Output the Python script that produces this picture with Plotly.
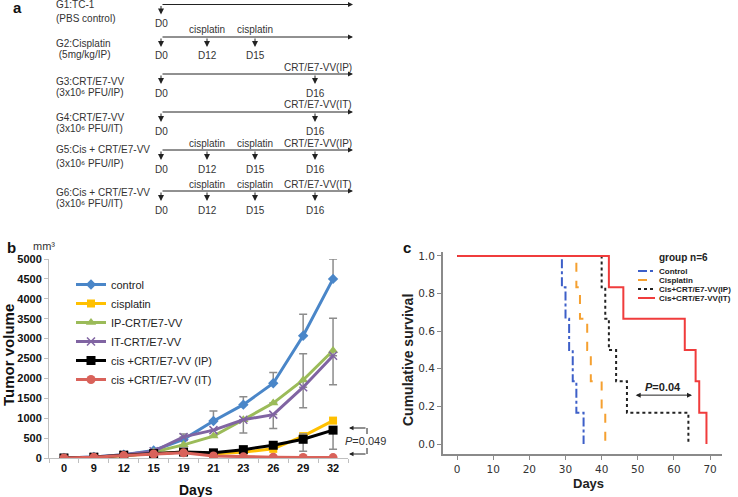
import plotly.graph_objects as go

W, H = 738, 497

def px(x):
    return x / W

def py(y):
    return 1 - y / H

# ---------------- Panel a: treatment schedule ----------------
group_names = ["G1:TC-1", "G2:Cisplatin", "G3:CRT/E7-VV", "G4:CRT/E7-VV",
               "G5:Cis + CRT/E7-VV", "G6:Cis + CRT/E7-VV"]
group_subs = ["(PBS control)", " (5mg/kg/IP)", "(3x10\u2076 PFU/IP)", "(3x10\u2076 PFU/IT)",
              "(3x10\u2076 PFU/IP)", "(3x10\u2076 PFU/IT)"]
group_days = [[0], [0, 12, 15], [0, 16], [0, 16], [0, 12, 15, 16], [0, 12, 15, 16]]
group_treat = [[""], ["", "cisplatin", "cisplatin"], ["", "CRT/E7-VV(IP)"], ["", "CRT/E7-VV(IT)"],
               ["", "cisplatin", "cisplatin", "CRT/E7-VV(IP)"],
               ["", "cisplatin", "cisplatin", "CRT/E7-VV(IT)"]]

# ---------------- Panel b: tumor volume ----------------
days_b = ["0", "9", "12", "15", "19", "21", "23", "26", "29", "32"]
control = [0, 25, 80, 190, 470, 930, 1340, 1880, 3070, 4500]
cisplatin = [0, 20, 60, 110, 150, 100, 150, 230, 550, 940]
ip_vv = [0, 20, 70, 150, 330, 550, 960, 1380, 1960, 2700]
it_vv = [0, 25, 80, 170, 530, 700, 960, 1090, 1780, 2570]
cis_ip = [0, 20, 70, 110, 150, 130, 210, 320, 470, 700]
cis_it = [0, 20, 60, 100, 130, 50, 30, 20, 15, 10]

control_err_up = [None, None, None, None, None, 250, 200, 270, 540, 500]
control_err_dn = [None, None, None, None, None, 0, 0, 0, 0, 0]
ip_err_up = [None, None, None, None, None, None, 0, None, 660, 810]
ip_err_dn = [None, None, None, None, None, None, 330, None, 700, 860]
it_err_up = [None, None, None, None, 70, None, None, 0, None, None]
it_err_dn = [None, None, None, None, 0, None, None, 350, None, None]
cisip_err_up = [None, None, None, None, None, None, None, None, 130, 0]
cisip_err_dn = [None, None, None, None, None, None, None, None, 300, 480]

# ---------------- Panel c: survival ----------------
n_mice = 6
surv_names = ["Control", "Cisplatin", "Cis+CRT/E7-VV(IP)", "Cis+CRT/E7-VV(IT)"]
death_days = [[29, 30, 31, 32, 33, 35],
              [33, 34, 36, 37, 40, 41],
              [40, 41, 42, 44, 47, 64],
              [42, 46, 63, 66, 67, 69]]

fig = go.Figure()

# ---- panel b traces ----
b_series = [
    ("control", control, "#4A86C8", "diamond", 8, control_err_up, control_err_dn),
    ("cisplatin", cisplatin, "#FFC000", "square", 8, None, None),
    ("IP-CRT/E7-VV", ip_vv, "#9BBB59", "triangle-up", 9, ip_err_up, ip_err_dn),
    ("IT-CRT/E7-VV", it_vv, "#8064A2", "x-thin", 8, it_err_up, it_err_dn),
    ("cis +CRT/E7-VV (IP)", cis_ip, "#000000", "square", 9, cisip_err_up, cisip_err_dn),
    ("cis +CRT/E7-VV (IT)", cis_it, "#D9625A", "circle", 9, None, None),
]
for name, vals, col, sym, size, eu, ed in b_series:
    err = None
    if eu is not None:
        err = dict(type="data", symmetric=False, array=eu, arrayminus=ed,
                   color="#8c8c8c", thickness=1.5, width=4)
    marker = dict(symbol=sym, size=size, color=col)
    if sym == "x-thin":
        marker["line"] = dict(color=col, width=1.5)
    fig.add_trace(go.Scatter(x=days_b, y=vals, name=name, mode="lines+markers",
                             line=dict(color=col, width=3), marker=marker,
                             error_y=err, xaxis="x", yaxis="y", legend="legend"))

# ---- panel c traces ----
c_styles = [("#3D5FC8", "dashdot", 2), ("#F5A030", "dash", 2),
            ("#222222", "dot", 2), ("#F03C3C", "solid", 2)]
for name, dd, (col, dash, w) in zip(surv_names, death_days, c_styles):
    xs = [0] + dd
    ys = [1.0] + [1 - (i + 1) / n_mice for i in range(len(dd))]
    fig.add_trace(go.Scatter(x=xs, y=ys, name=name, mode="lines", line_shape="hv",
                             line=dict(color=col, dash=dash, width=w),
                             xaxis="x2", yaxis="y2", showlegend=False))

# ---------------- layout ----------------
annotations = []
shapes = []
txt = "#333333"
fb = "Liberation Sans, Arial"
fa = dict(family=fb, size=10, color=txt)


def label(x, y, text, font, xanchor="center", **kw):
    d = dict(x=px(x), y=py(y), xref="paper", yref="paper", text=text, showarrow=False,
             xanchor=xanchor, yanchor="middle", font=font)
    d.update(kw)
    return d


def arrow(x, y, ax, ay, size=1.0):
    return dict(x=px(x), y=py(y), xref="paper", yref="paper", text="", showarrow=True,
                ax=ax, ay=ay, arrowhead=2, arrowsize=size, arrowwidth=1, arrowcolor="#222")


# panel a schedule drawing
day_pos = {0: 161, 12: 207, 15: 255, 16: 315}
line_y = [4.5, 37, 74, 112, 150, 191]
name_y = [(5, 18), (43, 55), (81, 92), (117, 128), (149, 164), (192, 203)]
for gi in range(len(group_names)):
    ly = line_y[gi]
    annotations.append(arrow(353, ly, -(353 - 161), 0))
    annotations.append(label(54, name_y[gi][0], group_names[gi], fa, xanchor="left"))
    annotations.append(label(54, name_y[gi][1], group_subs[gi], fa, xanchor="left"))
    for d, t in zip(group_days[gi], group_treat[gi]):
        xp = day_pos[d]
        annotations.append(arrow(xp, ly + 10, 0, -10, 1.2))
        annotations.append(label(xp, ly + 19, "D%d" % d, fa))
        if t:
            annotations.append(label(xp + (3 if d == 16 else 0), ly - 7, t, fa))

# panel letters
for letter, x, y in [("a", 17, 8), ("b", 11, 248), ("c", 407, 247)]:
    annotations.append(label(x, y, "<b>%s</b>" % letter, dict(family=fb, size=15, color="#111")))

# panel b labels
annotations += [
    label(44, 246, "mm\u00b3", dict(family=fb, size=11, color=txt)),
    label(8, 355, "<b>Tumor volume</b>", dict(family=fb, size=15, color="#111"), textangle=-90),
    label(196, 490, "<b>Days</b>", dict(family=fb, size=14, color="#111")),
    label(365, 441, "<i>P</i>=0.049", dict(family=fb, size=11, color=txt)),
    arrow(349, 428, 18, 0, 0.9),
    arrow(349, 454, 18, 0, 0.9),
]
shapes += [
    dict(type="line", xref="paper", yref="paper", x0=px(367), x1=px(367), y0=py(428),
         y1=py(434), line=dict(color="#222", width=1)),
    dict(type="line", xref="paper", yref="paper", x0=px(367), x1=px(367), y0=py(454),
         y1=py(448), line=dict(color="#222", width=1)),
]

# panel c labels
annotations += [
    label(408, 360, "<b>Cumulative survival</b>", dict(family=fb, size=14, color="#222"),
          textangle=-90),
    label(588, 483, "<b>Days</b>", dict(family=fb, size=13, color="#222")),
    dict(x=65, y=0.26, xref="x2", yref="y2", ax=49, ay=0.26, axref="x2", ayref="y2",
         text="", showarrow=True, arrowhead=2, startarrowhead=2, arrowside="end+start",
         arrowsize=1, arrowwidth=1, arrowcolor="#222"),
    dict(x=57, y=0.305, xref="x2", yref="y2", text="<b><i>P</i>=0.04</b>", showarrow=False,
         xanchor="center", yanchor="middle", font=dict(family=fb, size=11, color="#222")),
    label(683, 257, "<b>group n=6</b>", dict(family=fb, size=10, color="#222")),
]
leg_y = [271, 280, 289, 298]
for name, (col, dash, w), yy in zip(surv_names, c_styles, leg_y):
    shapes.append(dict(type="line", xref="paper", yref="paper", x0=px(638), x1=px(655),
                       y0=py(yy), y1=py(yy), line=dict(color=col, dash=dash, width=w)))
    annotations.append(label(657, yy, "<b>%s</b>" % name,
                             dict(family=fb, size=8, color="#222"), xanchor="left"))

fig.update_layout(
    width=W, height=H, margin=dict(l=0, r=0, t=0, b=0, autoexpand=False),
    paper_bgcolor="white", plot_bgcolor="rgba(0,0,0,0)",
    font=dict(family=fb, color=txt),
    annotations=annotations, shapes=shapes,
    xaxis=dict(domain=[px(49), px(348)], anchor="y", type="category",
               range=[-0.5, 9.5], showgrid=False, zeroline=False,
               showline=True, linecolor="#bfbfbf", linewidth=1,
               ticks="outside", tickson="boundaries", ticklen=4, tickcolor="#bfbfbf",
               tickfont=dict(family=fb, size=11, color="#111"),
               tickprefix="<b>", ticksuffix="</b>", automargin=False),
    yaxis=dict(domain=[py(458), py(259)], anchor="x", range=[0, 5000], dtick=500,
               showgrid=False, zeroline=False, showline=True, linecolor="#bfbfbf",
               linewidth=1, ticks="outside", ticklen=4, tickcolor="#bfbfbf",
               tickfont=dict(family=fb, size=11, color="#111"),
               tickprefix="<b>", ticksuffix="</b>", automargin=False),
    xaxis2=dict(domain=[px(443), px(722)], anchor="y2", range=[-3.9, 73.3],
                tickvals=[0, 10, 20, 30, 40, 50, 60, 70], showgrid=False, zeroline=False,
                showline=True, linecolor="#8a8a8a", linewidth=2, ticks="outside",
                ticklen=4, tickcolor="#8a8a8a",
                tickfont=dict(family="DejaVu Sans", size=10.5, color="#333"),
                tickprefix="<b>", ticksuffix="</b>", automargin=False),
    yaxis2=dict(domain=[py(454), py(252)], anchor="x2", range=[-0.053, 1.021],
                tickvals=[0, 0.2, 0.4, 0.6, 0.8, 1.0], tickformat=".1f", showgrid=False,
                zeroline=False, showline=True, linecolor="#8a8a8a", linewidth=2,
                ticks="outside", ticklen=4, tickcolor="#8a8a8a",
                tickfont=dict(family="DejaVu Sans", size=10.5, color="#333"),
                tickprefix="<b>", ticksuffix="</b>", automargin=False),
    legend=dict(x=px(71), y=py(270), xanchor="left", yanchor="top",
                bgcolor="rgba(0,0,0,0)", font=dict(family=fb, size=11, color="#222"),
                tracegroupgap=0, itemwidth=30),
)

# remove the browser's default 8px page margin so the figure sits at the window origin
fig.write_html("out.html", config={"displayModeBar": False},
               post_script="document.body.style.margin='0';")
